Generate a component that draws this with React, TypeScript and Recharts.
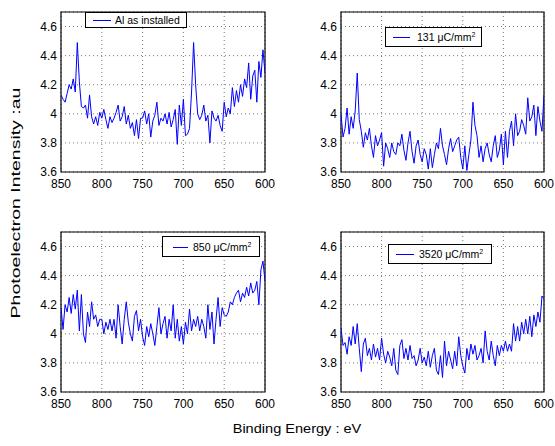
import { LineChart, Line, XAxis, YAxis, CartesianGrid, ReferenceArea } from 'recharts'

// binding energy grid, eV (x axis runs 850 -> 600)
const ENERGY = [
  850, 847.5, 845, 842.5, 840, 837.5, 835, 832.5, 830, 827.5,
  825, 822.5, 820, 817.5, 815, 812.5, 810, 807.5, 805, 802.5,
  800, 797.5, 795, 792.5, 790, 787.5, 785, 782.5, 780, 777.5,
  775, 772.5, 770, 767.5, 765, 762.5, 760, 757.5, 755, 752.5,
  750, 747.5, 745, 742.5, 740, 737.5, 735, 732.5, 730, 727.5,
  725, 722.5, 720, 717.5, 715, 712.5, 710, 707.5, 705, 702.5,
  700, 697.5, 695, 692.5, 690, 687.5, 685, 682.5, 680, 677.5,
  675, 672.5, 670, 667.5, 665, 662.5, 660, 657.5, 655, 652.5,
  650, 647.5, 645, 642.5, 640, 637.5, 635, 632.5, 630, 627.5,
  625, 622.5, 620, 617.5, 615, 612.5, 610, 607.5, 605, 602.5,
  600,
]

const AS_INSTALLED = [
  4.13, 4.10, 4.08, 4.14, 4.20, 4.17, 4.24, 4.15, 4.49, 4.22,
  4.05, 4.04, 4.06, 3.97, 4.13, 3.98, 3.93, 3.98, 3.92, 4.01,
  3.97, 4.03, 3.96, 3.90, 3.98, 3.94, 3.97, 4.01, 4.06, 3.95,
  3.98, 4.05, 3.93, 3.99, 3.90, 3.94, 3.85, 3.96, 3.83, 3.97,
  3.97, 4.02, 3.93, 4.00, 3.84, 3.95, 3.99, 4.08, 3.92, 3.97,
  3.95, 4.00, 3.93, 4.01, 3.91, 3.96, 4.03, 3.79, 4.06, 3.92,
  4.10, 3.85, 3.86, 3.90, 4.15, 4.49, 4.20, 4.00, 3.96, 3.99,
  4.06, 3.95, 3.99, 3.80, 4.02, 3.97, 3.95, 3.99, 3.92, 3.88,
  4.08, 3.98, 4.04, 4.00, 4.18, 4.05, 4.16, 4.08, 4.20, 4.12,
  4.24, 4.18, 4.35, 4.10, 4.26, 4.30, 4.08, 4.36, 4.25, 4.44,
  4.28,
]

const DOSE_131 = [
  4.00, 3.84, 3.90, 4.04, 3.86, 3.98, 3.90, 4.02, 4.28, 3.96,
  3.88, 3.77, 3.87, 3.82, 3.90, 3.78, 3.70, 3.85, 3.78, 3.82,
  3.87, 3.64, 3.80, 3.76, 3.70, 3.80, 3.74, 3.72, 3.80, 3.78,
  3.86, 3.75, 3.68, 3.80, 3.88, 3.74, 3.66, 3.78, 3.82, 3.72,
  3.67, 3.76, 3.72, 3.62, 3.76, 3.63, 3.72, 3.80, 3.76, 3.90,
  3.78, 3.72, 3.65, 3.76, 3.83, 3.74, 3.78, 3.82, 3.84, 3.70,
  3.62, 3.78, 3.61, 3.72, 3.82, 4.08, 3.92, 3.85, 3.70, 3.78,
  3.67, 3.76, 3.80, 3.72, 3.67, 3.78, 3.85, 3.70, 3.75, 3.86,
  3.65, 3.88, 3.70, 3.88, 3.95, 3.78, 4.00, 3.85, 3.88, 3.96,
  3.92, 3.86, 4.11, 3.95, 3.98, 4.06, 3.85, 4.05, 3.95, 3.88,
  4.13,
]

const DOSE_850 = [
  4.18, 4.03, 4.20, 4.15, 4.25, 4.14, 4.27, 4.17, 4.30, 4.02,
  4.27, 4.00, 3.94, 4.15, 4.05, 4.22, 4.10, 4.13, 4.05, 4.10,
  4.10, 4.00, 4.08, 4.03, 4.10, 4.02, 4.10, 3.97, 4.20, 4.05,
  3.93, 4.10, 4.22, 4.08, 4.00, 3.95, 4.12, 4.16, 4.02, 4.10,
  3.98, 3.92, 4.05, 3.98, 4.07, 4.00, 3.92, 4.05, 4.18, 4.00,
  4.07, 4.12, 3.97, 4.10, 4.02, 4.20, 3.97, 4.10, 3.95, 4.05,
  3.93, 4.08, 4.00, 4.17, 4.02, 4.10, 4.05, 4.12, 4.02, 4.10,
  4.05, 3.97, 4.20, 4.03, 4.15, 3.93, 4.10, 4.25, 4.05, 4.18,
  4.13, 4.12, 4.15, 4.22, 4.20, 4.25, 4.28, 4.30, 4.22, 4.28,
  4.25, 4.32, 4.26, 4.35, 4.28, 4.30, 4.36, 4.20, 4.44, 4.50,
  4.36,
]

const DOSE_3520 = [
  4.04, 3.92, 3.94, 3.86, 3.98, 3.92, 4.05, 3.93, 4.07, 3.90,
  3.74, 3.93, 3.97, 3.85, 3.90, 3.82, 3.93, 3.84, 3.90, 3.82,
  3.97, 3.86, 3.80, 3.88, 3.84, 3.78, 3.90, 3.75, 3.72, 3.92,
  3.96, 3.83, 3.90, 3.82, 3.92, 3.83, 3.85, 3.78, 3.82, 3.90,
  3.80, 3.84, 3.78, 3.88, 3.77, 3.85, 3.90, 3.75, 3.72, 3.85,
  3.70, 3.95, 3.78, 3.88, 3.82, 3.76, 3.88, 3.78, 3.98, 3.85,
  3.78, 3.73, 3.90, 3.82, 3.93, 3.86, 3.92, 3.82, 3.85, 3.90,
  3.80, 4.02, 3.88, 3.82, 3.95, 3.85, 3.78, 3.92, 3.85, 3.92,
  3.88, 3.95, 3.88, 3.93, 3.88, 4.07, 3.95, 4.05, 3.95, 4.08,
  4.00, 4.10, 4.00, 4.12, 3.98, 4.13, 4.05, 4.15, 4.08, 4.26,
  4.24,
]

const X_TICKS = [850, 800, 750, 700, 650, 600]
const Y_TICKS = [3.6, 3.8, 4, 4.2, 4.4, 4.6]

const FONT = '"Liberation Sans", Arial, Helvetica, sans-serif'
const tickStyle = { fontSize: 12, fill: '#000', fontFamily: FONT }

interface LegendBox {
  left: number
  top: number
  width: number
  height: number
  lineFrom: number
  lineTo: number
  textAt: number
}

interface PanelProps {
  left: number
  top: number
  width: number
  rightPad: number
  values: number[]
  label: React.ReactNode
  box: LegendBox
}

function Panel({ left, top, width, rightPad, values, label, box }: PanelProps) {
  const data = ENERGY.map((e, i) => ({ e, v: values[i] }))
  return (
    <>
      <div style={{ position: 'absolute', left, top }}>
        <LineChart width={width} height={194} data={data} margin={{ top: 12, right: rightPad, left: 0, bottom: 0 }}>
          <CartesianGrid stroke="#555" strokeDasharray="1 3" strokeWidth={0.8} />
          <XAxis
            dataKey="e"
            type="number"
            domain={[600, 850]}
            reversed
            ticks={X_TICKS}
            height={22}
            axisLine={false}
            tickLine={false}
            tickSize={4}
            tickMargin={3}
            tick={tickStyle}
            allowDataOverflow
          />
          <YAxis
            type="number"
            domain={[3.6, 4.7]}
            ticks={Y_TICKS}
            width={61}
            axisLine={false}
            tickLine={false}
            tickSize={3}
            tickMargin={1}
            tick={tickStyle}
            allowDataOverflow
          />
          <Line type="linear" dataKey="v" stroke="#0000ff" strokeWidth={1} dot={false} isAnimationActive={false} />
          <ReferenceArea x1={850} x2={600} y1={3.6} y2={4.7} fill="none" stroke="#000" strokeWidth={1.2} />
        </LineChart>
      </div>
      <div
        style={{
          position: 'absolute',
          left: box.left,
          top: box.top,
          width: box.width,
          height: box.height,
          boxSizing: 'border-box',
          border: '1.2px solid #000',
          background: '#fff',
        }}
      >
        <div
          style={{
            position: 'absolute',
            left: box.lineFrom - box.left,
            width: box.lineTo - box.lineFrom,
            top: box.height / 2 - 1,
            borderTop: '1px solid #0000ff',
          }}
        />
        <div
          style={{
            position: 'absolute',
            left: box.textAt - box.left,
            top: 0,
            height: box.height - 2,
            display: 'flex',
            alignItems: 'center',
            fontSize: 10.5,
            fontFamily: FONT,
            whiteSpace: 'nowrap',
          }}
        >
          {label}
        </div>
      </div>
    </>
  )
}

const sup = { fontSize: 7, verticalAlign: 'super', lineHeight: 0 } as const

export default function App() {
  return (
    <div style={{ position: 'absolute', left: 0, top: 0, width: 555, height: 446, background: '#fff', fontFamily: FONT }}>
      <Panel
        left={0}
        top={0}
        width={277}
        rightPad={12}
        values={AS_INSTALLED}
        label="Al as installed"
        box={{ left: 85, top: 12, width: 102, height: 16, lineFrom: 92, lineTo: 110, textAt: 114 }}
      />
      <Panel
        left={280}
        top={0}
        width={275}
        rightPad={11}
        values={DOSE_131}
        label={<span>131 μC/mm<span style={sup}>2</span></span>}
        box={{ left: 385, top: 27, width: 97, height: 20, lineFrom: 392, lineTo: 409, textAt: 416 }}
      />
      <Panel
        left={0}
        top={220}
        width={277}
        rightPad={12}
        values={DOSE_850}
        label={<span>850 μC/mm<span style={sup}>2</span></span>}
        box={{ left: 162, top: 236, width: 98, height: 21, lineFrom: 172, lineTo: 187, textAt: 192 }}
      />
      <Panel
        left={280}
        top={220}
        width={275}
        rightPad={11}
        values={DOSE_3520}
        label={<span>3520 μC/mm<span style={sup}>2</span></span>}
        box={{ left: 388, top: 244, width: 104, height: 20, lineFrom: 395, lineTo: 413, textAt: 418 }}
      />
      <svg width={555} height={446} style={{ position: 'absolute', left: 0, top: 0, pointerEvents: 'none' }}>
        <text
          transform="translate(20,203) rotate(-90) scale(1.5,1)"
          textAnchor="middle"
          fontSize={13}
          fontFamily={FONT}
          fill="#000"
        >
          Photoelectron Intensity :au
        </text>
        <text transform="translate(297,433) scale(1.12,1)" textAnchor="middle" fontSize={13} fontFamily={FONT} fill="#000">
          Binding Energy : eV
        </text>
      </svg>
    </div>
  )
}
